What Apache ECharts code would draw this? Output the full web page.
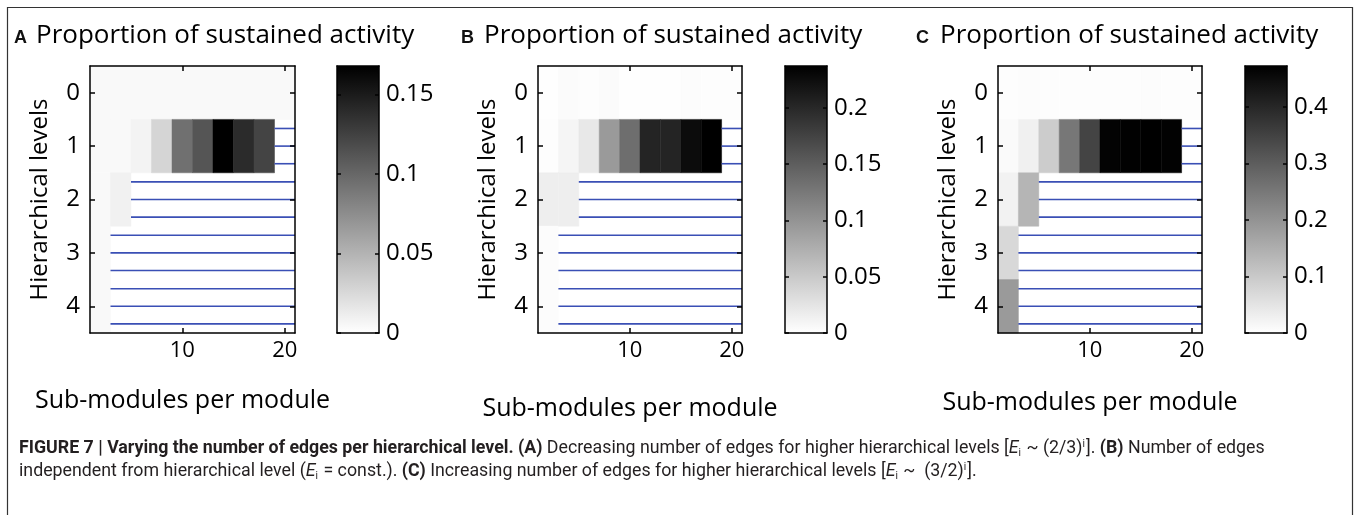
<!DOCTYPE html>
<html><head><meta charset="utf-8">
<script src="https://cdn.jsdelivr.net/npm/echarts@6/dist/echarts.min.js"></script>
<style>html,body{margin:0;padding:0;background:#fff}#c{width:1359px;height:515px}</style>
</head><body><div id="c"></div>
<script>
// ---------------- data ----------------
const subModules = [2, 4, 6, 8, 10, 12, 14, 16, 18, 20];   // column centres
const levels = [0, 1, 2, 3, 4];
const xTicks = [10, 20];
const yTicks = [0, 1, 2, 3, 4];
const panelLetters = ['A', 'B', 'C'];
const panelTitle = 'Proportion of sustained activity';
const xName = 'Sub-modules per module';
const yName = 'Hierarchical levels';

// rows = hierarchical levels 0..4, columns = subModules; null = hatched (not simulated)
const activityA = [
  [0.004, 0.004, 0.004, 0.004, 0.004, 0.004, 0.004, 0.004, 0.004, 0.004],
  [0.004, 0.004, 0.008, 0.028, 0.094, 0.112, 0.168, 0.140, 0.123, null],
  [0.004, 0.009, null, null, null, null, null, null, null, null],
  [0.004, null, null, null, null, null, null, null, null, null],
  [0.004, null, null, null, null, null, null, null, null, null]
];
const activityB = [
  [0.001, 0.004, 0.002, 0.004, 0.001, 0.001, 0.001, 0.003, 0.002, 0.002],
  [0.002, 0.009, 0.021, 0.094, 0.135, 0.204, 0.204, 0.226, 0.237, null],
  [0.016, 0.016, null, null, null, null, null, null, null, null],
  [0.003, null, null, null, null, null, null, null, null, null],
  [0.003, null, null, null, null, null, null, null, null, null]
];
const activityC = [
  [0.004, 0.005, 0.004, 0.004, 0.003, 0.003, 0.004, 0.005, 0.004, 0.004],
  [0.009, 0.028, 0.095, 0.252, 0.347, 0.468, 0.472, 0.473, 0.470, null],
  [0.024, 0.137, null, null, null, null, null, null, null, null],
  [0.072, null, null, null, null, null, null, null, null, null],
  [0.187, null, null, null, null, null, null, null, null, null]
];
const colorMax = [0.168, 0.237, 0.473];
const cbTicksA = [0, 0.05, 0.1, 0.15];
const cbTicksB = [0, 0.05, 0.1, 0.15, 0.2];
const cbTicksC = [0, 0.1, 0.2, 0.3, 0.4];
// first sub-module value where each level becomes hatched
const hatchStart = [null, 19, 5, 3, 3];
const hatchOffsets = [-0.33, 0, 0.33];

const X_MIN = 1, X_MAX = 21, CELL_W = 2;

// ---------------- layout / style ----------------
const FONT = "'Open Sans', 'Noto Sans', sans-serif";
const CAP_FONT = "'Roboto', sans-serif";
const CAP_SIZE = 17.8;
const layout = [
  { left: 90,  width: 205, cbLeft: 337,  letterX: 14,  titleX: 36,  xGap: 55 },
  { left: 538, width: 204, cbLeft: 785,  letterX: 461, titleX: 484, xGap: 63 },
  { left: 998, width: 204, cbLeft: 1245, letterX: 916, titleX: 940, xGap: 57 }
];
const TOP = 66, H = 267, CB_W = 42;
const activities = [activityA, activityB, activityC];
const cbTicks = [cbTicksA, cbTicksB, cbTicksC];

function renderCell(params, api) {
  const x = api.value(0), y = api.value(1);
  const p0 = api.coord([x - CELL_W / 2, y - 0.5]);
  const p1 = api.coord([x + CELL_W / 2, y + 0.5]);
  const c = api.visual('color');
  return { type: 'rect',
    shape: { x: Math.min(p0[0], p1[0]), y: Math.min(p0[1], p1[1]),
             width: Math.abs(p1[0] - p0[0]), height: Math.abs(p1[1] - p0[1]) },
    style: { fill: c, stroke: c, lineWidth: 0.5 } };
}
function renderHatch(params, api) {
  const p0 = api.coord([api.value(0), api.value(1)]);
  const p1 = api.coord([X_MAX, api.value(1)]);
  return { type: 'line', shape: { x1: p0[0], y1: p0[1], x2: p1[0], y2: p1[1] },
    style: { stroke: '#3a4fb5', lineWidth: 1.6 } };
}
function renderBar(params, api) {
  const p0 = api.coord([0, 0]);
  const p1 = api.coord([1, api.value(1)]);
  return { type: 'rect',
    shape: { x: p0[0], y: p1[1], width: p1[0] - p0[0], height: p0[1] - p1[1] },
    style: { fill: new echarts.graphic.LinearGradient(0, 0, 0, 1,
      [{ offset: 0, color: '#000000' }, { offset: 1, color: '#ffffff' }]) } };
}

const grid = [], xAxis = [], yAxis = [], series = [], visualMap = [], title = [];
const lineStyle = { color: '#000', width: 1.5 };
const axLine = { show: true, onZero: false, lineStyle };

layout.forEach((L, i) => {
  const g = grid.length;
  grid.push({ left: L.left, top: TOP, width: L.width, height: H, outerBoundsMode: 'none' });
  grid.push({ left: L.cbLeft, top: TOP, width: CB_W, height: H, outerBoundsMode: 'none' });

  // heatmap axes
  const xa = xAxis.length, ya = yAxis.length;
  xAxis.push({ gridIndex: g, type: 'value', min: X_MIN, max: X_MAX, position: 'bottom', z: 5,
    axisLine: axLine, splitLine: { show: false },
    axisTick: { show: true, inside: true, length: 5, customValues: xTicks, lineStyle },
    axisLabel: { show: true, customValues: xTicks, fontSize: 22, fontFamily: FONT, color: '#000', margin: 7 },
    name: xName, nameLocation: 'middle', nameGap: L.xGap,
    nameTextStyle: { fontSize: 25, fontFamily: FONT, color: '#000', padding: [0, 20, 0, 0] } });
  xAxis.push({ gridIndex: g, type: 'value', min: X_MIN, max: X_MAX, position: 'top', z: 5,
    axisLine: axLine, splitLine: { show: false },
    axisTick: { show: true, inside: true, length: 5, customValues: xTicks, lineStyle },
    axisLabel: { show: false } });
  yAxis.push({ gridIndex: g, type: 'value', min: -0.5, max: 4.5, inverse: true, position: 'left', z: 5,
    axisLine: axLine, splitLine: { show: false },
    axisTick: { show: true, inside: true, length: 5, customValues: yTicks, lineStyle },
    axisLabel: { show: true, customValues: yTicks, fontSize: 24, fontFamily: FONT, color: '#000', margin: 10 },
    name: yName, nameLocation: 'middle', nameGap: 38, nameRotate: 90,
    nameTextStyle: { fontSize: 24, fontFamily: FONT, color: '#000' } });
  yAxis.push({ gridIndex: g, type: 'value', min: -0.5, max: 4.5, inverse: true, position: 'right', z: 5,
    axisLine: axLine, splitLine: { show: false },
    axisTick: { show: true, inside: true, length: 5, customValues: yTicks, lineStyle },
    axisLabel: { show: false } });

  // colorbar axes
  const cxa = xAxis.length, cya = yAxis.length;
  xAxis.push({ gridIndex: g + 1, type: 'value', min: 0, max: 1, position: 'bottom', z: 5,
    axisLine: axLine, axisTick: { show: false }, axisLabel: { show: false }, splitLine: { show: false } });
  xAxis.push({ gridIndex: g + 1, type: 'value', min: 0, max: 1, position: 'top', z: 5,
    axisLine: axLine, axisTick: { show: false }, axisLabel: { show: false }, splitLine: { show: false } });
  yAxis.push({ gridIndex: g + 1, type: 'value', min: 0, max: colorMax[i], position: 'right', z: 5,
    axisLine: axLine, splitLine: { show: false },
    axisTick: { show: true, inside: true, length: 4, customValues: cbTicks[i], lineStyle },
    axisLabel: { show: true, customValues: cbTicks[i], fontSize: 24, fontFamily: FONT, color: '#000', margin: 7,
      formatter: v => String(+v.toFixed(3)) } });
  yAxis.push({ gridIndex: g + 1, type: 'value', min: 0, max: colorMax[i], position: 'left', z: 5,
    axisLine: axLine, splitLine: { show: false },
    axisTick: { show: true, inside: true, length: 4, customValues: cbTicks[i], lineStyle },
    axisLabel: { show: false } });

  // series
  const cells = [];
  activities[i].forEach((row, li) => row.forEach((v, ci) => {
    if (v !== null) cells.push([subModules[ci], levels[li], v]);
  }));
  const hatch = [];
  hatchStart.forEach((s, li) => {
    if (s !== null) hatchOffsets.forEach(o => hatch.push([s, levels[li] + o]));
  });
  visualMap.push({ type: 'continuous', show: false, min: 0, max: colorMax[i], dimension: 2,
    seriesIndex: series.length, inRange: { color: ['#ffffff', '#000000'] } });
  series.push({ type: 'custom', xAxisIndex: xa, yAxisIndex: ya, renderItem: renderCell, data: cells,
    encode: { x: 0, y: 1 }, silent: true });
  series.push({ type: 'custom', xAxisIndex: xa, yAxisIndex: ya, renderItem: renderHatch, data: hatch,
    encode: { x: 0, y: 1 }, silent: true });
  series.push({ type: 'custom', xAxisIndex: cxa, yAxisIndex: cya, renderItem: renderBar,
    data: [[0, colorMax[i]]], encode: { x: 0, y: 1 }, silent: true });

  title.push({ text: panelLetters[i], left: L.letterX, top: 29, padding: 0,
    textStyle: { fontSize: 18, fontWeight: 'bold', fontFamily: "'Liberation Sans', Arial, sans-serif", color: '#111' } });
  title.push({ text: panelTitle, left: L.titleX, top: 23, padding: 0,
    textStyle: { fontSize: 26, fontWeight: 'normal', fontFamily: FONT, color: '#000' } });
});

const capStyle = (w, st) => ({ fontFamily: CAP_FONT, fontSize: CAP_SIZE, fontWeight: w, fontStyle: st || 'normal', fill: '#231f20' });
const caption =
  '{b|FIGURE 7 | Varying the number of edges per hierarchical level.} {b|(A)} Decreasing number of edges for higher hierarchical levels [{e|E}{sub|i} ~ (2/3){sup|i}]. {b|(B)} Number of edges\n' +
  'independent from hierarchical level ({e|E}{sub|i} = const.). {b|(C)} Increasing number of edges for higher hierarchical levels [{e|E}{sub|i} ~  (3/2){sup|i}].';

const option = {
  backgroundColor: '#fff',
  animation: false,
  title, grid, xAxis, yAxis, series, visualMap,
  graphic: [
    { type: 'rect', shape: { x: 7.5, y: 7.5, width: 1345, height: 520 }, style: { fill: 'none', stroke: '#333', lineWidth: 1.2 }, silent: true },
    { type: 'text', left: 19, top: 437, silent: true,
      style: { text: caption, fontFamily: CAP_FONT, fontSize: CAP_SIZE, fill: '#231f20', lineHeight: 23,
        rich: {
          b: capStyle('bold'),
          e: capStyle('normal', 'italic'),
          sub: { fontFamily: CAP_FONT, fontSize: 10, fill: '#231f20', padding: [9, 1, 0, 0] },
          sup: { fontFamily: CAP_FONT, fontSize: 10, fill: '#231f20', padding: [0, 1, 8, 0] }
        } } }
  ]
};
const chart = echarts.init(document.getElementById('c'), null, { renderer: 'canvas' });
chart.setOption(option);
</script></body></html>
